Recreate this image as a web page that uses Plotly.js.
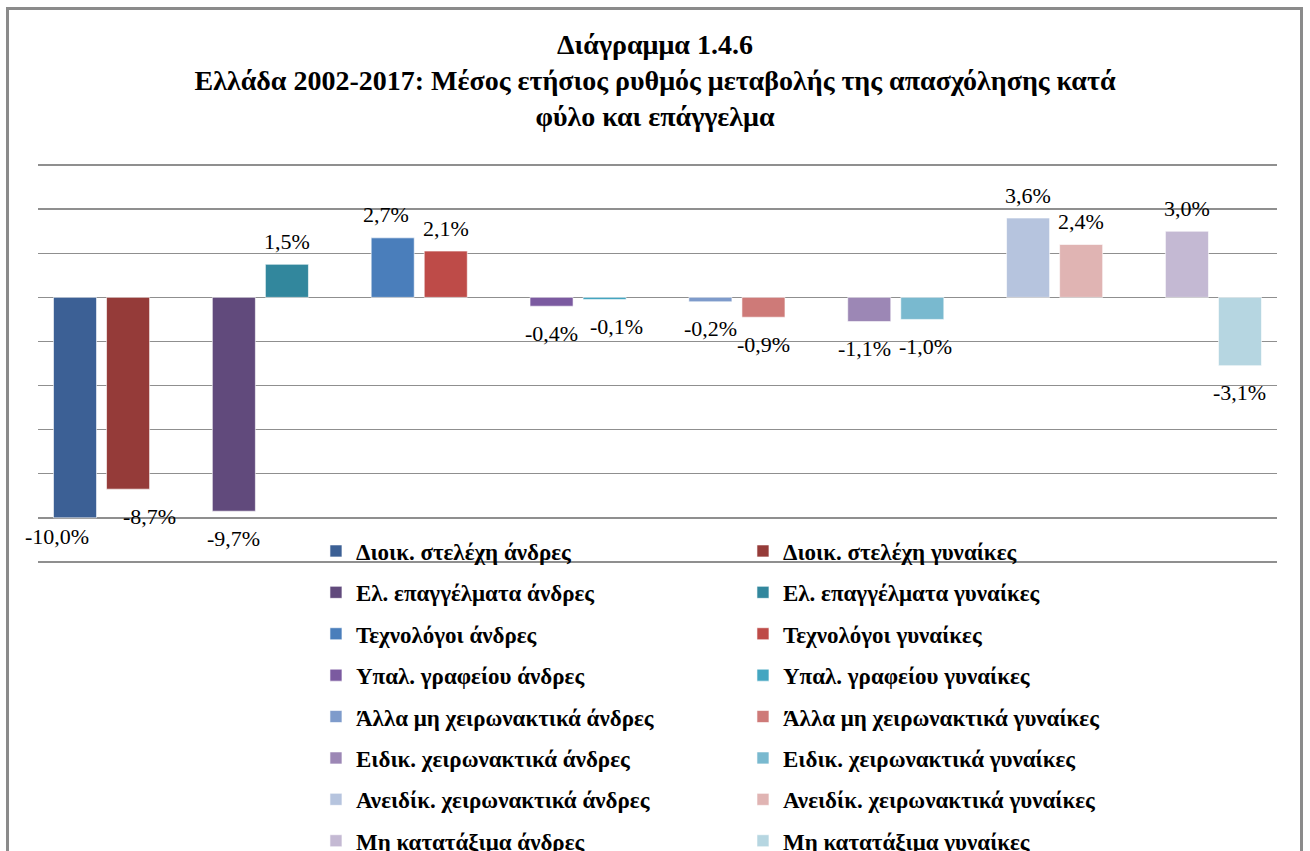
<!DOCTYPE html>
<html><head><meta charset="utf-8">
<script src="https://cdn.plot.ly/plotly-3.0.1.min.js"></script>
<style>
html,body{margin:0;padding:0;background:#fff;overflow:hidden;}
#wrap{position:relative;width:1310px;height:851px;overflow:hidden;}
#chart{width:1310px;height:851px;}
#frame{position:absolute;left:6px;top:7px;width:1297px;height:900px;border:3px solid #8b8b8b;pointer-events:none;box-sizing:border-box;}
</style></head><body>
<div id="wrap"><div id="chart"></div><div id="frame"></div></div>
<script>
// ---- data ----
const categories = ["Διοικ. στελέχη", "Ελ. επαγγέλματα", "Τεχνολόγοι", "Υπαλ. γραφείου",
  "Άλλα μη χειρωνακτικά", "Ειδικ. χειρωνακτικά", "Ανειδίκ. χειρωνακτικά", "Μη κατατάξιμα"];
const menNames = ["Διοικ. στελέχη άνδρες", "Ελ. επαγγέλματα άνδρες", "Τεχνολόγοι άνδρες", "Υπαλ. γραφείου άνδρες",
  "Άλλα μη χειρωνακτικά άνδρες", "Ειδικ. χειρωνακτικά άνδρες", "Ανειδίκ. χειρωνακτικά άνδρες", "Μη κατατάξιμα άνδρες"];
const womenNames = ["Διοικ. στελέχη γυναίκες", "Ελ. επαγγέλματα γυναίκες", "Τεχνολόγοι γυναίκες", "Υπαλ. γραφείου γυναίκες",
  "Άλλα μη χειρωνακτικά γυναίκες", "Ειδικ. χειρωνακτικά γυναίκες", "Ανειδίκ. χειρωνακτικά γυναίκες", "Μη κατατάξιμα γυναίκες"];
const menValues = [-10.0, -9.7, 2.7, -0.4, -0.2, -1.1, 3.6, 3.0];
const womenValues = [-8.7, 1.5, 2.1, -0.1, -0.9, -1.0, 2.4, -3.1];

// ---- styles ----
const menColors = ["#3C6095", "#614A7C", "#4A7EBB", "#7B5AA0", "#7E9BCB", "#9C87B5", "#B6C4DE", "#C4B9D3"];
const womenColors = ["#953B39", "#32879D", "#BE4B48", "#44A6C1", "#CE7A78", "#79B9CF", "#E0B4B3", "#B6D6E1"];
const BAR_W = 0.271, HALF_SEP = 0.167;
// manual label nudges (px) as in the original
const nudges = {m0: [-18, 8], w0: [21, 0], m2: [-7, 0], w3: [12, 0], m5: [-5, 0], w5: [3, 0]};

const fmt = v => v.toFixed(1).replace('.', ',') + '%';
const serif = "'Liberation Serif', 'Times New Roman', serif";

const traces = [];
const annotations = [];
categories.forEach((c, i) => {
  [['m', menValues, menNames, menColors, -1], ['w', womenValues, womenNames, womenColors, 1]].forEach(([k, vals, names, cols, side]) => {
    traces.push({
      type: 'bar', x: [c], y: [vals[i]], name: names[i], legendgroup: k + i,
      width: BAR_W, offset: side * HALF_SEP - BAR_W / 2,
      marker: {color: cols[i], line: {color: 'rgba(255,255,255,0.6)', width: 1}},
      hoverinfo: 'skip'
    });
    const n = nudges[k + i] || [0, 0];
    annotations.push({
      x: i + side * HALF_SEP, y: vals[i], xref: 'x', yref: 'y',
      text: fmt(vals[i]), showarrow: false,
      font: {family: serif, size: 22, color: '#000'},
      xshift: n[0], yshift: (vals[i] >= 0 ? 23 : -27) + n[1]
    });
  });
});

const layout = {
  width: 1310, height: 851,
  paper_bgcolor: '#fff', plot_bgcolor: '#fff',
  margin: {l: 38, r: 33, t: 164, b: 288, autoexpand: false},
  title: {
    text: 'Διάγραμμα 1.4.6<br>Ελλάδα 2002-2017: Μέσος ετήσιος ρυθμός μεταβολής της απασχόλησης κατά<br>φύλο και επάγγελμα',
    font: {family: serif, size: 28, color: '#000', weight: 'bold'},
    x: 0.5, xanchor: 'center', xref: 'container', y: 0.937, yanchor: 'top', yref: 'container'
  },
  xaxis: {type: 'category', categoryarray: categories, categoryorder: 'array', range: [-0.4, 7.4],
    showticklabels: false, showgrid: false, zeroline: false, showline: false, ticks: '', fixedrange: true},
  yaxis: {range: [-12.05, 6.05], dtick: 2, tick0: 0, showticklabels: false, ticks: '',
    showgrid: true, gridcolor: '#8f8f8f', gridwidth: 1.5,
    zeroline: true, zerolinecolor: '#8f8f8f', zerolinewidth: 1.5, showline: false, fixedrange: true},
  showlegend: true,
  legend: {orientation: 'h', traceorder: 'grouped', tracegroupgap: 8.5,
    xref: 'container', yref: 'container',
    x: 0.2412, xanchor: 'left', y: 0.3778, yanchor: 'top', entrywidth: 382,
    bgcolor: 'rgba(0,0,0,0)', borderwidth: 0,
    font: {family: serif, size: 23, color: '#000', weight: 'bold'}},
  annotations: annotations,
  hovermode: false
};

Plotly.newPlot('chart', traces, layout, {displayModeBar: false, staticPlot: true});
</script>
</body></html>
